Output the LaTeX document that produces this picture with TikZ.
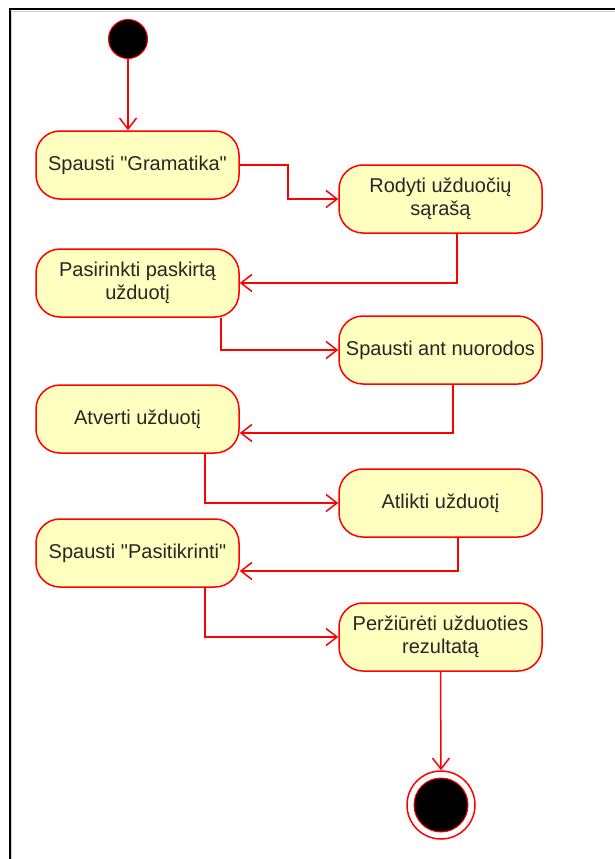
\documentclass[tikz,border=0pt]{standalone}
\usepackage{fontspec}
\setmainfont{Liberation Sans}[Ligatures=TeXOff]
\usetikzlibrary{arrows.meta}
\definecolor{actfill}{HTML}{FFFFC0}
\definecolor{linered}{HTML}{FF0000}
\definecolor{txt}{HTML}{262626}
\begin{document}
\begin{tikzpicture}[x=1pt,y=-1pt,
  action/.style={draw=linered, line width=1.5pt, fill=actfill, rounded corners=24pt,
    minimum width=203pt, minimum height=68pt, align=center, inner sep=2pt,
    font=\fontsize{20}{23}\selectfont, text=txt},
  flow/.style={draw=linered, line width=1.5pt,
    -{Straight Barb[length=11pt,width=17pt,line width=1.5pt]}},
  startdot/.style={circle, draw=linered, line width=1pt, fill=black, minimum size=39pt, inner sep=0pt},
  endring/.style={circle, draw=linered, line width=1.5pt, fill=white, minimum size=68pt, inner sep=0pt},
  enddot/.style={circle, draw=linered, line width=1pt, fill=black, minimum size=54pt, inner sep=0pt}
]
\useasboundingbox (0,0) rectangle (615,859);

% frame of the sheet
\draw[gray!35, line width=1pt] (11.8,859) -- (11.8,11.3) -- (615,11.3);
\draw[black, line width=2pt] (10,859) -- (10,9.3) -- (615,9.3);

% states
\node[startdot] (start) at (128,39) {};
\node[action] (s1) at (137.5,165) {Spausti "Gramatika"};
\node[action] (s2) at (440.5,199) {Rodyti užduočių\\sąrašą};
\node[action] (s3) at (137.5,283) {Pasirinkti paskirtą\\užduotį};
\node[action] (s4) at (440.5,350) {Spausti ant nuorodos};
\node[action] (s5) at (137.5,419) {Atverti užduotį};
\node[action] (s6) at (440.5,503) {Atlikti užduotį};
\node[action] (s7) at (137.5,553) {Spausti "Pasitikrinti"};
\node[action] (s8) at (440.5,637) {Peržiūrėti užduoties\\rezultatą};
\node[endring] (end) at (441,805) {};
\node[enddot] (enddot) at (end) {};

% bend columns of the connectors
\coordinate (k1) at (288,0);
\coordinate (k2) at (457,0);
\coordinate (k3) at (221,0);
\coordinate (k4) at (453,0);
\coordinate (k5) at (205,0);
\coordinate (k6) at (458,0);
\coordinate (k7) at (205,0);

% transitions
\draw[flow] (start) -- (start |- s1.north);
\draw[flow] (s1.east) -- (s1.east -| k1) |- (s2.west);
\draw[flow] (s2.south -| k2) |- (s3.east);
\draw[flow] (s3.south -| k3) |- (s4.west);
\draw[flow] (s4.south -| k4) |- ([yshift=-14pt]s5.east);
\draw[flow] (s5.south -| k5) |- (s6.west);
\draw[flow] (s6.south -| k6) |- ([yshift=-18pt]s7.east);
\draw[flow] (s7.south -| k7) |- (s8.west);
\draw[flow] (s8.south) -- (end.north);
\end{tikzpicture}
\end{document}
